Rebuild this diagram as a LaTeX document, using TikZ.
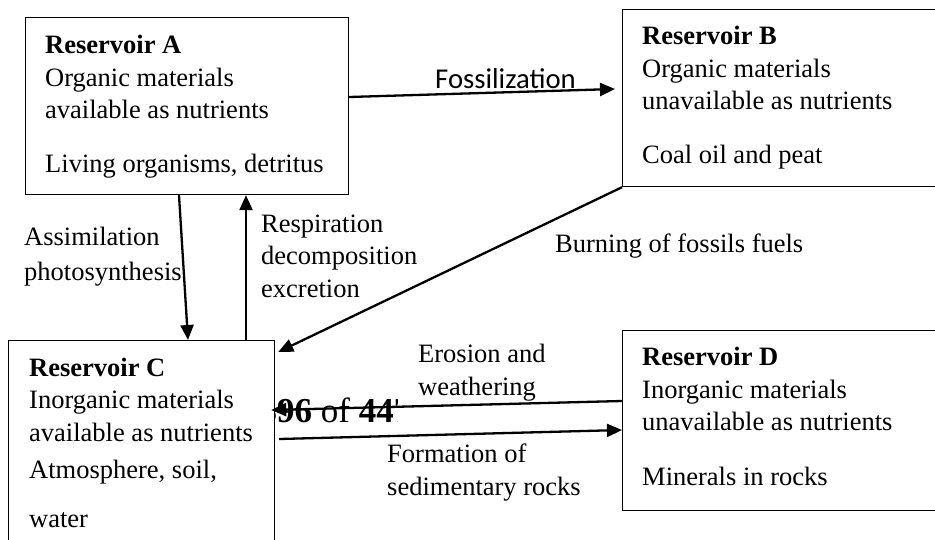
\documentclass[tikz,border=0pt]{standalone}
\usepackage{fontspec}
\setmainfont{Liberation Serif}
\newfontfamily\calibrifont{Carlito}
\usetikzlibrary{arrows.meta}
\tikzset{
  reservoir/.style={draw, line width=1.2pt, fill=white, inner sep=0pt, anchor=north west},
  flow/.style={line width=2.3pt, -{Triangle[length=15pt,width=13pt]}},
  txt/.style={anchor=base west, align=left, inner sep=0pt, font=\fontsize{26.5}{32.5}\selectfont}
}
\begin{document}
\begin{tikzpicture}[x=1pt,y=-1pt]
  \useasboundingbox (0,0) rectangle (935,539);
  % page number showing through
  \begin{scope}
    \clip (274,395) rectangle (397,440);
    \node[txt, font=\fontsize{35}{40}\selectfont] (pageno) at (259.5,422) {\textbf{396} of \textbf{447}};
  \end{scope}
  % reservoir boxes
  \node[reservoir, minimum width=323pt, minimum height=177pt] (A) at (25,17) {};
  \node[reservoir, minimum width=323pt, minimum height=177pt] (B) at (622,9) {};
  \node[reservoir, minimum width=266pt, minimum height=210pt] (C) at (8,340) {};
  \node[reservoir, minimum width=323pt, minimum height=180pt] (D) at (622,330) {};
  % box texts (placed at the baseline of their last line)
  \node[txt] (Atext) at (45,172) {\textbf{Reservoir A}\\Organic materials\\available as nutrients\\[21pt]Living organisms, detritus};
  \node[txt] (Btext) at (642,163) {\textbf{Reservoir B}\\Organic materials\\unavailable as nutrients\\[21pt]Coal oil and peat};
  \node[txt] (Ctext) at (29,527) {\textbf{Reservoir C}\\Inorganic materials\\available as nutrients\\[5pt]Atmosphere, soil,\\[16pt]water};
  \node[txt] (Dtext) at (642,485) {\textbf{Reservoir D}\\Inorganic materials\\unavailable as nutrients\\[22pt]Minerals in rocks};
  % flows between reservoirs
  \draw[flow] ([yshift=-80pt]A.north east) -- ([xshift=-7pt,yshift=-80pt]B.north west);
  \draw[flow] ([xshift=154pt]A.south west) -- ([xshift=180pt]C.north west);
  \draw[flow] ([xshift=238pt]C.north west) -- ([xshift=221pt]A.south west);
  \draw[flow] (B.south west) -- ([xshift=3pt,yshift=-12pt]C.north east);
  \draw[flow] ([yshift=-71pt]D.north west) -- ([xshift=-4pt,yshift=-70pt]C.north east);
  \draw[flow] ([xshift=4pt,yshift=-99pt]C.north east) -- ([yshift=-100pt]D.north west);
  % flow labels
  \node[txt, font=\calibrifont\fontsize{28.7}{33}\selectfont] (fossil) at (435,88) {Fossilization};
  \node[txt] (assim) at (24,280) {Assimilation\\[2pt]photosynthesis};
  \node[txt] (resp) at (261,297) {Respiration\\decomposition\\excretion};
  \node[txt] (burn) at (555,252) {Burning of fossils fuels};
  \node[txt] (erosion) at (418,395) {Erosion and\\weathering};
  \node[txt] (formation) at (387,495) {Formation of\\sedimentary rocks};
\end{tikzpicture}
\end{document}
